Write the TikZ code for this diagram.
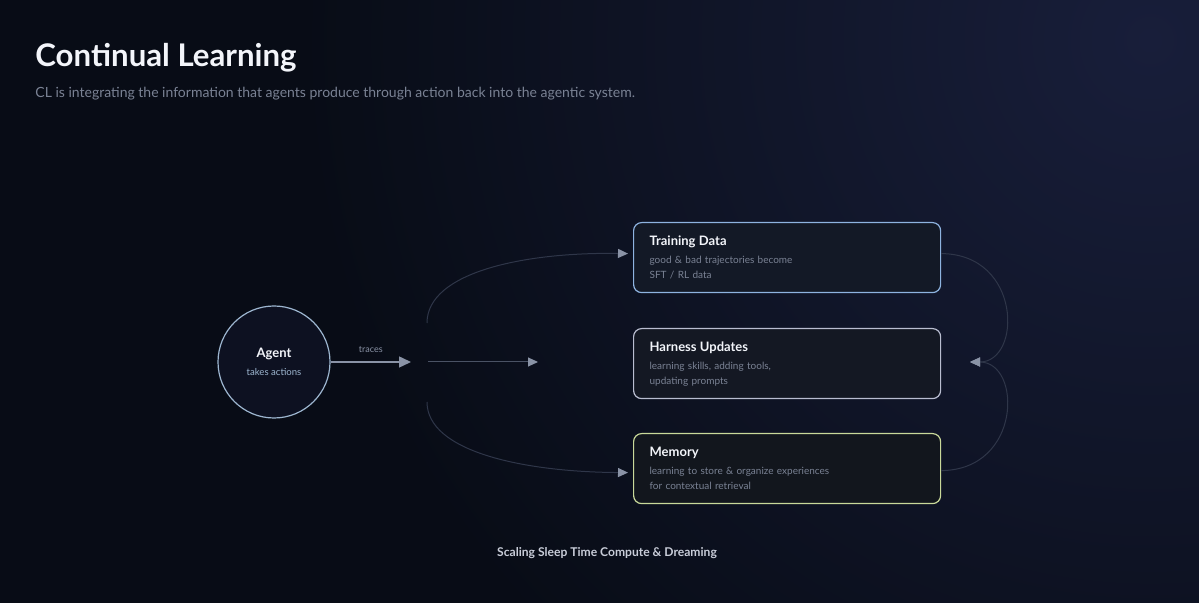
\documentclass[tikz,border=0pt]{standalone}
\usepackage{fontspec}
\setmainfont{Lato}
\usetikzlibrary{arrows.meta}
\usetikzlibrary{calc}

\definecolor{bgdark}{HTML}{080C16}
\definecolor{bgglow}{HTML}{181E3A}
\definecolor{inkwhite}{HTML}{F3F5FA}
\definecolor{subgrey}{HTML}{7A8294}
\definecolor{arrowgrey}{HTML}{8A93A6}
\definecolor{curvegrey}{HTML}{2F3649}
\definecolor{midgrey}{HTML}{4A5264}
\definecolor{agentblue}{HTML}{9DB6D0}
\definecolor{trainblue}{HTML}{8EB3E0}
\definecolor{harnessgrey}{HTML}{B9BDD0}
\definecolor{memorygreen}{HTML}{C9D99A}
\definecolor{footgrey}{HTML}{C9CDD9}

\tikzset{
 cardbox/.style={draw, rounded corners=4pt, line width=0.6pt, anchor=north west,
   minimum width=153.5pt, minimum height=35pt, text width=137.5pt, inner xsep=8pt,
   align=left, text=subgrey, font=\fontsize{5}{7.5}\selectfont},
 flow/.style={draw=curvegrey, line width=0.5pt, -{Triangle[length=5pt,width=4.5pt,color=arrowgrey]}},
}
\newcommand{\cardhead}[1]{{\fontsize{6.5}{9}\selectfont\bfseries\color{inkwhite}#1}\\[1.5pt]}

\begin{document}
\begin{tikzpicture}[x=0.5pt, y=-0.5pt]
\useasboundingbox (0,0) rectangle (1199,603);
\fill[bgdark] (0,0) rectangle (1199,603);
\begin{scope}
\clip (0,0) rectangle (1199,603);
\shade[inner color=bgglow, outer color=bgdark] (1150,40) circle (850);
\end{scope}

% heading
\node[anchor=base west, inner sep=0, text=inkwhite, font=\fontsize{15.6}{18}\selectfont\bfseries] (title) at (35,67) {Continual Learning};
\node[anchor=base west, inner sep=0, text=subgrey, font=\fontsize{7}{8}\selectfont] (subtitle) at (35,98) {CL is integrating the information that agents produce through action back into the agentic system.};

% agent
\node[circle, draw=agentblue, fill=bgdark!70!bgglow, line width=0.6pt, minimum size=56pt, align=center, inner sep=0] (agent) at (274,362)
 {{\fontsize{6.5}{9}\selectfont\bfseries\color{inkwhite}Agent}\\[-3pt]{\fontsize{4.8}{6}\selectfont\color{agentblue}takes actions}};

% cards
\node[cardbox, draw=trainblue, fill=trainblue!8!bgdark] (train) at (633,222)
 {\cardhead{Training Data}good \& bad trajectories become\\SFT / RL data};
\node[cardbox, draw=harnessgrey, fill=harnessgrey!7!bgdark] (harness) at (633,328)
 {\cardhead{Harness Updates}learning skills, adding tools,\\updating prompts};
\node[cardbox, draw=memorygreen, fill=memorygreen!5!bgdark] (memory) at (633,433)
 {\cardhead{Memory}learning to store \& organize experiences\\for contextual retrieval};

% fork and merge points
\coordinate (fork) at (411,362);
\coordinate (splitup) at (427,323);
\coordinate (splitmid) at (428,362);
\coordinate (splitdown) at (427,402);
\coordinate (midend) at (538,362);
\coordinate (merge) at (970,362);

\draw[draw=arrowgrey, line width=0.75pt, -{Triangle[length=6pt,width=5.5pt]}] (agent) -- (fork)
 node[midway, above, yshift=1pt, text=arrowgrey, font=\fontsize{4.5}{5}\selectfont] {traces};
\draw[flow, draw=midgrey] (splitmid) -- (midend);
\draw[flow] (splitup) .. controls (427,272) and (525,252) .. ([shift={(-5,-4)}]train.west);
\draw[flow] (splitdown) .. controls (427,452) and (525,472) .. ([shift={(-5,4)}]memory.west);

\draw[flow] ([yshift=2pt]train.east) .. controls (1022,254) and (1022,362) .. (merge);
\draw[flow] ([yshift=-1pt]memory.east) .. controls (1022,470) and (1022,362) .. (merge);

% footer
\node[anchor=base, inner sep=0, text=footgrey, font=\fontsize{6.05}{7}\selectfont\bfseries] (footer) at (607,557) {Scaling Sleep Time Compute \& Dreaming};
\end{tikzpicture}
\end{document}
